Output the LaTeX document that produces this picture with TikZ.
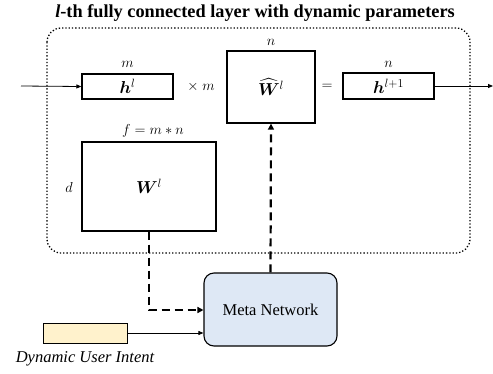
\documentclass[tikz,border=0pt]{standalone}
\usepackage{amsmath,bm}
\usepackage{fontspec}
\setmainfont{Liberation Serif}
\usetikzlibrary{arrows.meta}
\begin{document}
\begin{tikzpicture}[x=1pt,y=-1pt,
  blk/.style={draw,line width=1.3pt,inner sep=0pt},
  thinarrow/.style={line width=0.8pt,-{Triangle[length=5pt,width=4pt]}},
  dasharrow/.style={line width=2.2pt,dash pattern=on 8pt off 5pt,-{Triangle[length=6pt,width=6pt]}},
  lab/.style={font=\fontsize{15}{17}\selectfont,inner sep=0pt},
  boxlab/.style={font=\fontsize{17}{19}\selectfont,inner sep=0pt}]
\useasboundingbox (0,0) rectangle (493,373);
% title
\node[inner sep=0pt,font=\bfseries\fontsize{18.3}{20}\selectfont] (title) at (255,13) {\textit{l}-th fully connected layer with dynamic parameters};
% dotted container
\draw[line width=1.3pt,dotted,rounded corners=14pt] (47,28) rectangle (470,253);
% boxes
\node[blk,minimum width=91pt,minimum height=25pt] (h) at (127.5,86.5) {};
\node[boxlab] (ht) at (h.center) {$\bm{h}^{l}$};
\node[blk,minimum width=88pt,minimum height=72pt] (W) at (271,87) {};
\node[boxlab] (Wt) at (W.center) {$\widehat{\bm{W}}^{l}$};
\node[blk,minimum width=91pt,minimum height=26pt] (h2) at (388.5,86) {};
\node[boxlab] (h2t) at (h2.center) {$\bm{h}^{l+1}$};
\node[blk,minimum width=134pt,minimum height=89pt] (Wl) at (149,186.5) {};
\node[boxlab] (Wlt) at (Wl.center) {$\bm{W}^{l}$};
\node[draw,line width=1.1pt,fill={rgb,255:red,222;green,232;blue,245},rounded corners=10pt,minimum width=133pt,minimum height=73pt,inner sep=0pt] (meta) at (270.5,309.5) {\fontsize{16.5}{18}\selectfont Meta Network};
\node[draw,line width=0.8pt,fill={rgb,255:red,255;green,242;blue,204},minimum width=84pt,minimum height=20pt,inner sep=0pt] (intent) at (85,333) {};
% labels
\node[lab] (lm) at (127.5,64) {$m$};
\node[lab] (ln) at (271,42) {$n$};
\node[lab] (ln2) at (388.5,64) {$n$};
\node[lab] (times) at (201,87) {$\times\ m$};
\node[lab] (eq) at (327,87) {$=$};
\node[lab] (lf) at (153,131) {$f = m * n$};
\node[lab] (ld) at (69,187) {$d$};
\node[inner sep=0pt,font=\itshape\fontsize{16.5}{18}\selectfont] (lint) at (85,359) {Dynamic User Intent};
% input/output arrows
\coordinate (in) at (21,86);
\coordinate (out) at (493,86);
\draw[thinarrow] (in) -- (h.west);
\draw[thinarrow] (h2.east) -- (out);
% dashed
\draw[dasharrow] (Wl.south) |- (meta.west |- 0,310);
\draw[dasharrow] (meta.north) -- (W.south);
% intent arrow
\draw[thinarrow] (intent.east) -- (meta.west |- intent.east);
\end{tikzpicture}
\end{document}
